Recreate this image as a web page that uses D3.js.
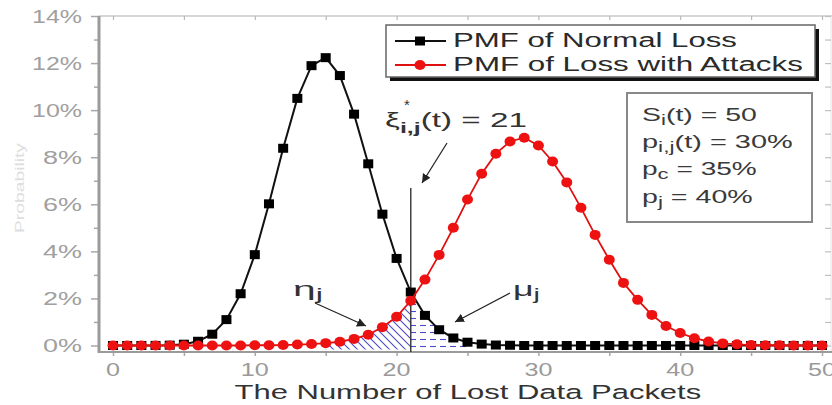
<!DOCTYPE html>
<html><head><meta charset="utf-8">
<script src="https://cdn.jsdelivr.net/npm/d3@7"></script>
<style>
body{margin:0;background:#fff}
svg{display:block}
text{font-family:"Liberation Sans",Arial,sans-serif}
</style>
</head><body>
<svg id="c" width="832" height="405"></svg>
<script>
// ---- data (values in percent) ----
const packets = [0,1,2,3,4,5,6,7,8,9,10,11,12,13,14,15,16,17,18,19,20,21,22,23,24,25,26,27,28,29,30,31,32,33,34,35,36,37,38,39,40,41,42,43,44,45,46,47,48,49,50];
const normalLoss = [0,0,0,0.003,0.014,0.055,0.18,0.48,1.10,2.20,3.86,6.02,8.38,10.50,11.89,12.23,11.47,9.83,7.72,5.58,3.70,2.27,1.28,0.67,0.32,0.14,0.06,0.02,0.01,0,0,0,0,0,0,0,0,0,0,0,0,0,0,0,0,0,0,0,0,0,0];
const attackLoss = [0,0,0,0,0,0,0,0,0,0,0.01,0.01,0.02,0.04,0.06,0.10,0.16,0.28,0.46,0.78,1.22,1.90,2.80,3.85,5.00,6.20,7.30,8.15,8.67,8.83,8.50,7.82,6.93,5.85,4.70,3.64,2.66,1.94,1.30,0.83,0.53,0.31,0.17,0.09,0.05,0.02,0.01,0.01,0,0,0];
const yTickLabels = [0,2,4,6,8,10,12,14];
const xTickLabels = [0,10,20,30,40,50];
const threshold = 21;
const legendLabels = ["PMF of Normal Loss","PMF of Loss with Attacks"];
const etaRange = [15,21];
const muRange = [21,25];

(function(){
const svg = d3.select("#c");
const L = 99, R = 832, T = 16, B = 352;
const x = d3.scaleLinear([0,50],[113,822]);
const y = d3.scaleLinear([0,14],[345.5,16]);
const axisCol = "#a8a8a8";

function label(parent, px, py, width, anchor, build, color){
  const g = parent.append("g");
  const t = g.append("text").attr("x",0).attr("y",0).attr("fill",color||"#333");
  build(t);
  const bb = t.node().getBBox();
  const s = width / bb.width;
  const x0 = anchor==="middle" ? px - width/2 : anchor==="end" ? px - width : px;
  g.attr("transform",`translate(${x0 - bb.x*s},${py}) scale(${s},1)`);
  return g;
}

const defs = svg.append("defs");
const pd = defs.append("pattern").attr("id","diag").attr("patternUnits","userSpaceOnUse")
  .attr("width",8).attr("height",8);
pd.append("path").attr("d","M-2,-2 L10,10 M-2,6 L2,10 M6,-2 L10,2").attr("stroke","#4a4acc").attr("stroke-width",1.1);
const ph = defs.append("pattern").attr("id","horiz").attr("patternUnits","userSpaceOnUse")
  .attr("width",10).attr("height",7);
ph.append("path").attr("d","M0,3.5 L6,3.5").attr("stroke","#4a4acc").attr("stroke-width",1.1);
defs.append("marker").attr("id","arr").attr("viewBox","0 0 10 10").attr("refX",10).attr("refY",5)
  .attr("markerWidth",9).attr("markerHeight",9).attr("orient","auto-start-reverse").attr("markerUnits","userSpaceOnUse")
  .append("path").attr("d","M0,0 L10,5 L0,10 z").attr("fill","#222");

svg.append("line").attr("x1",L).attr("x2",R).attr("y1",T).attr("y2",T).attr("stroke","#c8c8c8").attr("stroke-width",1.5);
svg.append("line").attr("x1",R-1).attr("x2",R-1).attr("y1",T).attr("y2",B).attr("stroke","#e4e4e4").attr("stroke-width",1);

const leftAx = svg.append("g").attr("transform",`translate(${L},0)`)
  .call(d3.axisLeft(y).tickValues(d3.range(0,15)).tickSize(8).tickFormat(""));
leftAx.select(".domain").remove();
leftAx.selectAll(".tick line").attr("stroke",axisCol).attr("stroke-width",1.5)
  .attr("x2",d=> d%2===0 ? -8 : -5);
const rightAx = svg.append("g").attr("transform",`translate(${R-1},0)`)
  .call(d3.axisRight(y).tickValues(d3.range(0,15)).tickSize(-6).tickFormat(""));
rightAx.select(".domain").remove();
rightAx.selectAll(".tick line").attr("stroke","#c0c0c0").attr("stroke-width",1.2);
const topAx = svg.append("g").attr("transform",`translate(0,${T})`)
  .call(d3.axisBottom(x).tickValues(d3.range(0,51,5)).tickSize(4).tickFormat(""));
topAx.select(".domain").remove();
topAx.selectAll(".tick line").attr("stroke","#b8b8b8").attr("stroke-width",1.2);
const bottomAx = svg.append("g").attr("transform",`translate(0,${B})`)
  .call(d3.axisBottom(x).tickValues(d3.range(0,51,5)).tickSize(4).tickFormat(""));
bottomAx.select(".domain").remove();
bottomAx.selectAll(".tick line").attr("stroke",axisCol).attr("stroke-width",1.5);

svg.append("line").attr("x1",L).attr("x2",L).attr("y1",T).attr("y2",B+1).attr("stroke","#9a9a9a").attr("stroke-width",3);
svg.append("line").attr("x1",L).attr("x2",R).attr("y1",B).attr("y2",B).attr("stroke","#9a9a9a").attr("stroke-width",2);

yTickLabels.forEach(v=>{
  label(svg, 82, y(v)+6.5, String(v).length>1 ? 50 : 39, "end",
    t=>t.attr("font-size",18).text(v+"%"), "#a0a0a0");
});
xTickLabels.forEach(v=>{
  label(svg, x(v), 375.5, String(v).length>1 ? 28 : 14, "middle",
    t=>t.attr("font-size",18.5).text(v), "#9a9a9a");
});

label(svg, 468, 399, 467, "middle", t=>t.attr("font-size",20.5).text("The Number of Lost Data Packets"), "#333");
svg.append("text").attr("transform","translate(24,188) rotate(-90)").attr("text-anchor","middle")
  .attr("font-size",13).attr("textLength",90).attr("lengthAdjust","spacingAndGlyphs")
  .attr("fill","#dedede").text("Probability");

const etaData = packets.map((p,i)=>({p,v:attackLoss[i]})).filter(d=>d.p>=etaRange[0]&&d.p<=etaRange[1]);
svg.append("path").datum(etaData)
  .attr("d",d3.area().x(d=>x(d.p)).y0(y(0)+4).y1(d=>y(d.v)))
  .attr("fill","url(#diag)");
const muData = packets.map((p,i)=>({p,v:normalLoss[i]})).filter(d=>d.p>=muRange[0]&&d.p<=muRange[1]);
svg.append("path").datum(muData)
  .attr("d",d3.area().x(d=>x(d.p)).y0(y(0)+4).y1(d=>y(d.v)))
  .attr("fill","url(#horiz)");

svg.append("line").attr("x1",x(threshold)).attr("x2",x(threshold)).attr("y1",188).attr("y2",B)
  .attr("stroke","#333").attr("stroke-width",1.4);

const line = d3.line().x(d=>x(d.p)).y(d=>y(d.v));
const blackD = packets.map((p,i)=>({p,v:normalLoss[i]}));
const redD = packets.map((p,i)=>({p,v:attackLoss[i]}));
svg.append("path").datum(blackD).attr("d",line).attr("fill","none").attr("stroke","#111").attr("stroke-width",2);
svg.append("g").selectAll("rect").data(blackD).join("rect")
  .attr("x",d=>x(d.p)-5).attr("y",d=>y(d.v)-4.5).attr("width",10).attr("height",9).attr("fill","#000");
svg.append("path").datum(redD).attr("d",line).attr("fill","none").attr("stroke","#e01010").attr("stroke-width",1.8);
svg.append("g").selectAll("ellipse").data(redD).join("ellipse")
  .attr("cx",d=>x(d.p)).attr("cy",d=>y(d.v)).attr("rx",5.5).attr("ry",5).attr("fill","#ee1111");

svg.append("rect").attr("x",390).attr("y",29).attr("width",429).attr("height",52).attr("fill","#111");
svg.append("rect").attr("x",386).attr("y",25).attr("width",429).attr("height",52).attr("fill","#fff")
  .attr("stroke","#666").attr("stroke-width",1.5);
const legY = [41,65];
const legCols = ["#111","#e01010"];
legendLabels.forEach((s,i)=>{
  svg.append("line").attr("x1",395).attr("x2",446).attr("y1",legY[i]).attr("y2",legY[i]).attr("stroke",legCols[i]).attr("stroke-width",2);
  if(i===0) svg.append("rect").attr("x",415).attr("y",legY[i]-4.5).attr("width",10).attr("height",9).attr("fill","#000");
  else svg.append("ellipse").attr("cx",420).attr("cy",legY[i]).attr("rx",5.5).attr("ry",5).attr("fill","#ee1111");
  label(svg, 453, legY[i]+6, i===0?284:350, "start", t=>t.attr("font-size",21).text(s), "#2a2a2a");
});

svg.append("rect").attr("x",627).attr("y",93).attr("width",185).attr("height",129).attr("fill","#fff")
  .attr("stroke","#888").attr("stroke-width",2);
const params = [
  {b:"S",sub:"i",rest:"(t) = 50",w:115,yy:121},
  {b:"p",sub:"i,j",rest:"(t) = 30%",w:151,yy:148},
  {b:"p",sub:"c",rest:" = 35%",w:115,yy:175},
  {b:"p",sub:"j",rest:" = 40%",w:111,yy:203}
];
params.forEach(p=>{
  label(svg, 642, p.yy, p.w, "start", t=>{
    t.attr("font-size",19);
    t.append("tspan").text(p.b);
    t.append("tspan").attr("dy",4).attr("font-size",15).text(p.sub);
    t.append("tspan").attr("dy",-4).text(p.rest);
  }, "#3a3a3a");
});

label(svg, 385, 127, 142, "start", t=>{
  t.attr("font-size",20);
  t.append("tspan").text("ξ");
  t.append("tspan").attr("dy",6).attr("font-size",15).attr("font-weight","bold").text("i,j");
  t.append("tspan").attr("dy",-6).text("(t) = 21");
}, "#333");
svg.append("text").attr("x",407).attr("y",110).attr("text-anchor","middle").attr("font-size",15).attr("fill","#333").text("*");
svg.append("line").attr("x1",447).attr("y1",143).attr("x2",422).attr("y2",183).attr("stroke","#222").attr("stroke-width",1.2).attr("marker-end","url(#arr)");

label(svg, 293, 296, 30, "start", t=>{
  t.attr("font-size",20).attr("font-family","'Liberation Serif',serif");
  t.append("tspan").text("η");
  t.append("tspan").attr("dy",4).attr("font-size",16).text("j");
}, "#333");
svg.append("line").attr("x1",315).attr("y1",303).attr("x2",366).attr("y2",326).attr("stroke","#222").attr("stroke-width",1.2).attr("marker-end","url(#arr)");
label(svg, 513, 296, 27, "start", t=>{
  t.attr("font-size",20).attr("font-family","'Liberation Serif',serif");
  t.append("tspan").text("μ");
  t.append("tspan").attr("dy",4).attr("font-size",16).text("j");
}, "#333");
svg.append("line").attr("x1",510).attr("y1",293).attr("x2",455).attr("y2",322).attr("stroke","#222").attr("stroke-width",1.2).attr("marker-end","url(#arr)");
})();
</script>
</body></html>
